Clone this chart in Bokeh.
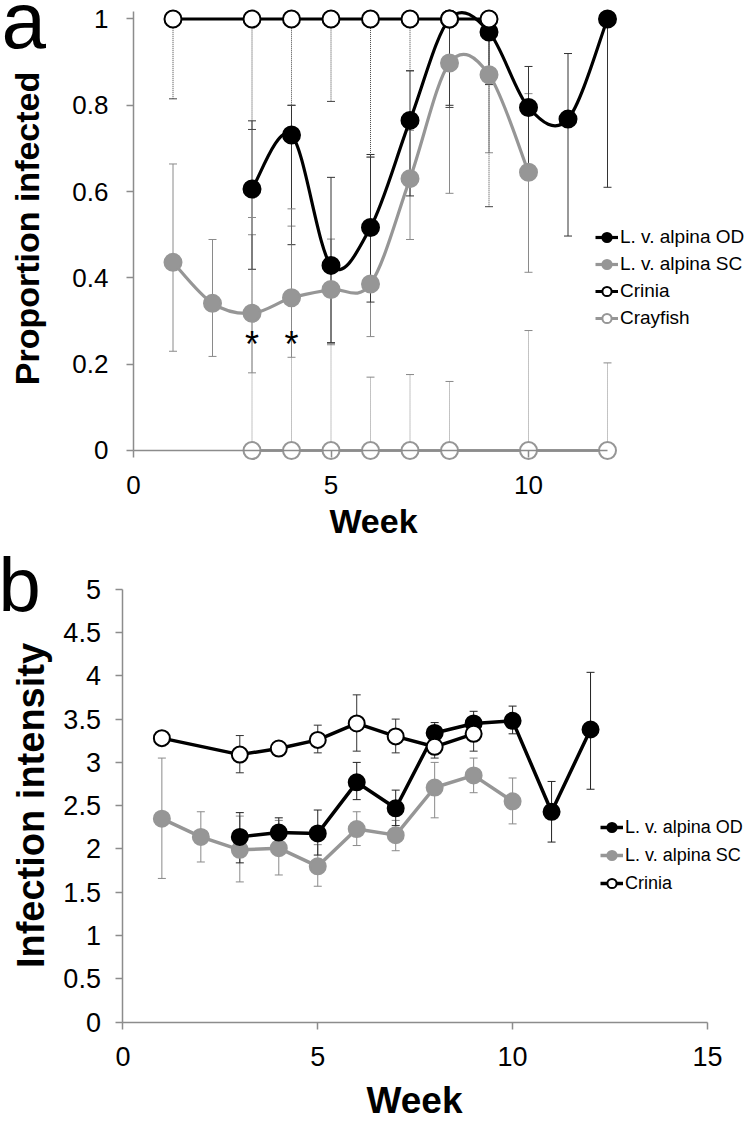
import numpy as np
from bokeh.plotting import figure
from bokeh.models import (ColumnDataSource, Whisker, TeeHead, Legend, LegendItem, Label,
                          FixedTicker, Range1d, NumeralTickFormatter)
from bokeh.layouts import column
from bokeh.core.properties import value
from bokeh.embed import file_html
from bokeh.resources import INLINE

FONT = "Liberation Sans"
GRAY = "#969696"
AXIS = "#8c8c8c"

# ---------------- Panel a: proportion infected ----------------
a_od_weeks = [3, 4, 5, 6, 7, 8, 9, 10, 11, 12]
a_od = [0.606, 0.731, 0.429, 0.517, 0.765, 1.0, 0.97, 0.795, 0.768, 1.0]
a_od_upper = [0.764, 0.80, 0.633, 0.686, 0.88, 1.0, 1.0, 0.89, 0.92, 1.0]
a_od_lower = [0.42, 0.477, 0.25, 0.344, 0.59, 0.80, 0.848, 0.66, 0.497, 0.61]

a_sc_weeks = [1, 2, 3, 4, 5, 6, 7, 8, 9, 10]
a_sc = [0.436, 0.341, 0.318, 0.354, 0.373, 0.386, 0.63, 0.898, 0.871, 0.645]
a_sc_upper = [0.664, 0.489, 0.50, 0.52, 0.49, 0.68, 0.742, 1.0, 1.0, 0.827]
a_sc_lower = [0.23, 0.218, 0.18, 0.216, 0.245, 0.264, 0.489, 0.596, 0.69, 0.413]

a_crinia_weeks = [1, 3, 4, 5, 6, 7, 8, 9]
a_crinia = [1.0, 1.0, 1.0, 1.0, 1.0, 1.0, 1.0, 1.0]
a_crinia_lower = [0.815, 0.744, 0.80, 0.809, 0.68, 0.88, 0.795, 0.565]

a_cray_weeks = [3, 4, 5, 6, 7, 8, 10, 12]
a_cray = [0, 0, 0, 0, 0, 0, 0, 0]
a_cray_upper = [0.54, 0.56, 0.248, 0.17, 0.176, 0.16, 0.278, 0.203]

a_y_ticks = [0, 0.2, 0.4, 0.6, 0.8, 1.0]
a_x_ticks = [0, 5, 10]

sig_weeks = [3, 4]
sig_level = 0.245

# ---------------- Panel b: infection intensity ----------------
b_od_weeks = [3, 4, 5, 6, 7, 8, 9, 10, 11, 12]
b_od = [2.14, 2.19, 2.18, 2.77, 2.47, 3.34, 3.45, 3.48, 2.43, 3.38]
b_od_upper = [2.42, 2.36, 2.45, 3.00, 2.68, 3.46, 3.59, 3.65, 2.78, 4.04]
b_od_lower = [1.84, 2.03, 1.93, 2.57, 2.27, 3.22, 3.31, 3.33, 2.08, 2.69]

b_sc_weeks = [1, 2, 3, 4, 5, 6, 7, 8, 9, 10]
b_sc = [2.35, 2.14, 1.99, 2.01, 1.80, 2.23, 2.16, 2.71, 2.85, 2.55]
b_sc_upper = [3.05, 2.43, 2.38, 2.33, 2.05, 2.43, 2.33, 3.00, 3.05, 2.82]
b_sc_lower = [1.66, 1.85, 1.62, 1.70, 1.57, 2.04, 1.98, 2.36, 2.65, 2.29]

b_crinia_weeks = [1, 3, 4, 5, 6, 7, 8, 9]
b_crinia = [3.28, 3.09, 3.16, 3.26, 3.45, 3.30, 3.18, 3.33]
b_crinia_upper = [3.28, 3.31, 3.22, 3.43, 3.78, 3.50, 3.30, 3.45]
b_crinia_lower = [3.28, 2.88, 3.10, 3.11, 3.13, 3.11, 3.05, 3.13]

b_y_ticks = [0, 0.5, 1, 1.5, 2, 2.5, 3, 3.5, 4, 4.5, 5]
b_x_ticks = [0, 5, 10, 15]

series_labels = ["L. v. alpina OD", "L. v. alpina SC", "Crinia", "Crayfish"]


def smooth_segments(xs, ys):
    """Bezier control points (Catmull-Rom style, like a spreadsheet 'smoothed line')."""
    x = np.asarray(xs, float)
    y = np.asarray(ys, float)
    n = len(x)
    xp = np.concatenate([[x[0]], x, [x[-1]]])
    yp = np.concatenate([[y[0]], y, [y[-1]]])
    return dict(
        x0=x[:-1], y0=y[:-1], x1=x[1:], y1=y[1:],
        cx0=x[:-1] + (xp[2:n + 1] - xp[0:n - 1]) / 6.0,
        cy0=y[:-1] + (yp[2:n + 1] - yp[0:n - 1]) / 6.0,
        cx1=x[1:] - (xp[3:n + 2] - xp[1:n]) / 6.0,
        cy1=y[1:] - (yp[3:n + 2] - yp[1:n]) / 6.0,
    )


def add_whisker(p, xs, lower, upper, color, dash="solid", lower_head=True, upper_head=True, size=8):
    src = ColumnDataSource(dict(x=xs, lower=lower, upper=upper))
    w = Whisker(base="x", lower="lower", upper="upper", source=src, dimension="height",
                line_color=color, line_width=1, line_dash=dash,
                lower_head=TeeHead(size=size, line_color=color, line_width=1) if lower_head else None,
                upper_head=TeeHead(size=size, line_color=color, line_width=1) if upper_head else None,
                level="underlay")
    p.add_layout(w)
    return w


def make_fig(width, height, xr, yr, x_ticks, y_ticks, x_bounds, y_bounds, tick_size,
             y_standoff, x_standoff):
    p = figure(width=width, height=height, x_range=Range1d(*xr), y_range=Range1d(*yr),
               output_backend="svg", toolbar_location=None, min_border=0)
    p.outline_line_color = None
    p.grid.visible = False
    for ax in (p.xaxis[0], p.yaxis[0]):
        ax.fixed_location = 0
        ax.axis_line_color = AXIS
        ax.axis_line_width = 1.5
        ax.major_tick_line_color = AXIS
        ax.major_tick_line_width = 1.5
        ax.minor_tick_line_color = None
        ax.major_tick_out = 7
        ax.major_tick_in = 0
        ax.major_label_text_font = FONT
        ax.major_label_text_font_size = tick_size
        ax.major_label_text_color = "black"
        ax.axis_label = None
    p.xaxis.ticker = FixedTicker(ticks=x_ticks)
    p.yaxis.ticker = FixedTicker(ticks=y_ticks)
    p.yaxis.formatter = NumeralTickFormatter(format="0.[0]")
    p.xaxis.bounds = x_bounds
    p.yaxis.bounds = y_bounds
    p.yaxis.major_label_standoff = y_standoff
    p.xaxis.major_label_standoff = x_standoff
    return p


def text_label(p, x, y, text, size, bold=False, angle=0.0, align="left"):
    p.add_layout(Label(x=x, y=y, x_units="screen", y_units="screen", text=text, angle=angle,
                       text_font=FONT, text_font_size=size, text_color="black",
                       text_font_style="bold" if bold else "normal",
                       text_align=align, text_baseline="alphabetic"))


def legend(items, loc, spacing, size):
    return Legend(items=items, location=loc, padding=0, margin=0, border_line_color=None,
                  background_fill_alpha=0, glyph_width=23, glyph_height=24, label_height=24,
                  spacing=spacing, label_standoff=2, label_text_font=FONT,
                  label_text_font_size=size, label_text_color="black")


# ================= Figure a =================
WA, HA = 748, 543
pa = make_fig(WA, HA, (-3.3671, 15.5696), (-0.21553, 1.04287), a_x_ticks, a_y_ticks,
              (0, 12), (0, 1.017), "26px", 18, 19)

add_whisker(pa, a_sc_weeks, a_sc_lower, a_sc_upper, "#8a8a8a")
add_whisker(pa, a_od_weeks, a_od_lower, a_od_upper, "#333333")
add_whisker(pa, a_crinia_weeks, a_crinia_lower, a_crinia, "#444444", dash="1 1", upper_head=False)
add_whisker(pa, a_cray_weeks, a_cray, a_cray_upper, "#888888", dash="1 1", lower_head=False)

bz = dict(x0="x0", y0="y0", x1="x1", y1="y1", cx0="cx0", cy0="cy0", cx1="cx1", cy1="cy1")
sc_line = pa.bezier(source=ColumnDataSource(smooth_segments(a_sc_weeks, a_sc)), line_color=GRAY,
                    line_width=3.2, **bz)
sc_pts = pa.scatter(a_sc_weeks, a_sc, marker="circle", size=17, fill_color=GRAY, line_color=GRAY, line_width=2)
od_line = pa.bezier(source=ColumnDataSource(smooth_segments(a_od_weeks, a_od)), line_color="black",
                    line_width=3.2, **bz)
od_pts = pa.scatter(a_od_weeks, a_od, marker="circle", size=17, fill_color="black", line_color="black", line_width=2)
cr_line = pa.line(a_cray_weeks, a_cray, line_color=GRAY, line_width=3)
cr_pts = pa.scatter(a_cray_weeks, a_cray, marker="circle", size=17, fill_color="white", line_color=GRAY, line_width=2)
ci_line = pa.line(a_crinia_weeks, a_crinia, line_color="black", line_width=3)
ci_pts = pa.scatter(a_crinia_weeks, a_crinia, marker="circle", size=17, fill_color="white", line_color="black", line_width=2)

pa.text(x=sig_weeks, y=[sig_level] * len(sig_weeks), text=["*"] * len(sig_weeks),
        text_font=value(FONT), text_font_size="36px", text_align="center", text_baseline="middle",
        text_color="black")

pa.add_layout(legend([LegendItem(label=series_labels[0], renderers=[od_line, od_pts]),
                      LegendItem(label=series_labels[1], renderers=[sc_line, sc_pts]),
                      LegendItem(label=series_labels[2], renderers=[ci_line, ci_pts]),
                      LegendItem(label=series_labels[3], renderers=[cr_line, cr_pts])],
                     (595, HA - 330), 3, "19px"))

text_label(pa, 1, HA - 20, "a", "80px")
text_label(pa, 26, HA - 228, "Proportion infected", "34px", bold=True, angle=np.pi / 2, align="center")
text_label(pa, 373, HA - 520, "Week", "34px", bold=True, align="center")

# ================= Figure b =================
WB, HB = 748, 577
pb = make_fig(WB, HB, (-3.1409, 16.0533), (-1.1351, 5.5277), b_x_ticks, b_y_ticks,
              (0, 15), (0, 5), "27px", 15, 18)

add_whisker(pb, b_sc_weeks, b_sc_lower, b_sc_upper, "#8a8a8a")
add_whisker(pb, b_od_weeks, b_od_lower, b_od_upper, "#222222")
add_whisker(pb, b_crinia_weeks, b_crinia_lower, b_crinia_upper, "#333333")

bsc_line = pb.line(b_sc_weeks, b_sc, line_color=GRAY, line_width=3.5)
bsc_pts = pb.scatter(b_sc_weeks, b_sc, marker="circle", size=16, fill_color=GRAY, line_color=GRAY, line_width=2)
bod_line = pb.line(b_od_weeks, b_od, line_color="black", line_width=3.5)
bod_pts = pb.scatter(b_od_weeks, b_od, marker="circle", size=16, fill_color="black", line_color="black", line_width=2)
bci_line = pb.line(b_crinia_weeks, b_crinia, line_color="black", line_width=3.5)
bci_pts = pb.scatter(b_crinia_weeks, b_crinia, marker="circle", size=16, fill_color="white", line_color="black", line_width=2)

pb.add_layout(legend([LegendItem(label=series_labels[0], renderers=[bod_line, bod_pts]),
                      LegendItem(label=series_labels[1], renderers=[bsc_line, bsc_pts]),
                      LegendItem(label=series_labels[2], renderers=[bci_line, bci_pts])],
                     (600, HB - 352), 4, "18px"))

text_label(pb, -2, HB - 41, "b", "76px")
text_label(pb, 30, HB - 262, "Infection intensity", "38px", bold=True, angle=np.pi / 2, align="center")
text_label(pb, 414, HB - 556.5, "Week", "37px", bold=True, align="center")

layout = column(pa, pb)
open("out.html", "w").write(file_html(layout, INLINE))
